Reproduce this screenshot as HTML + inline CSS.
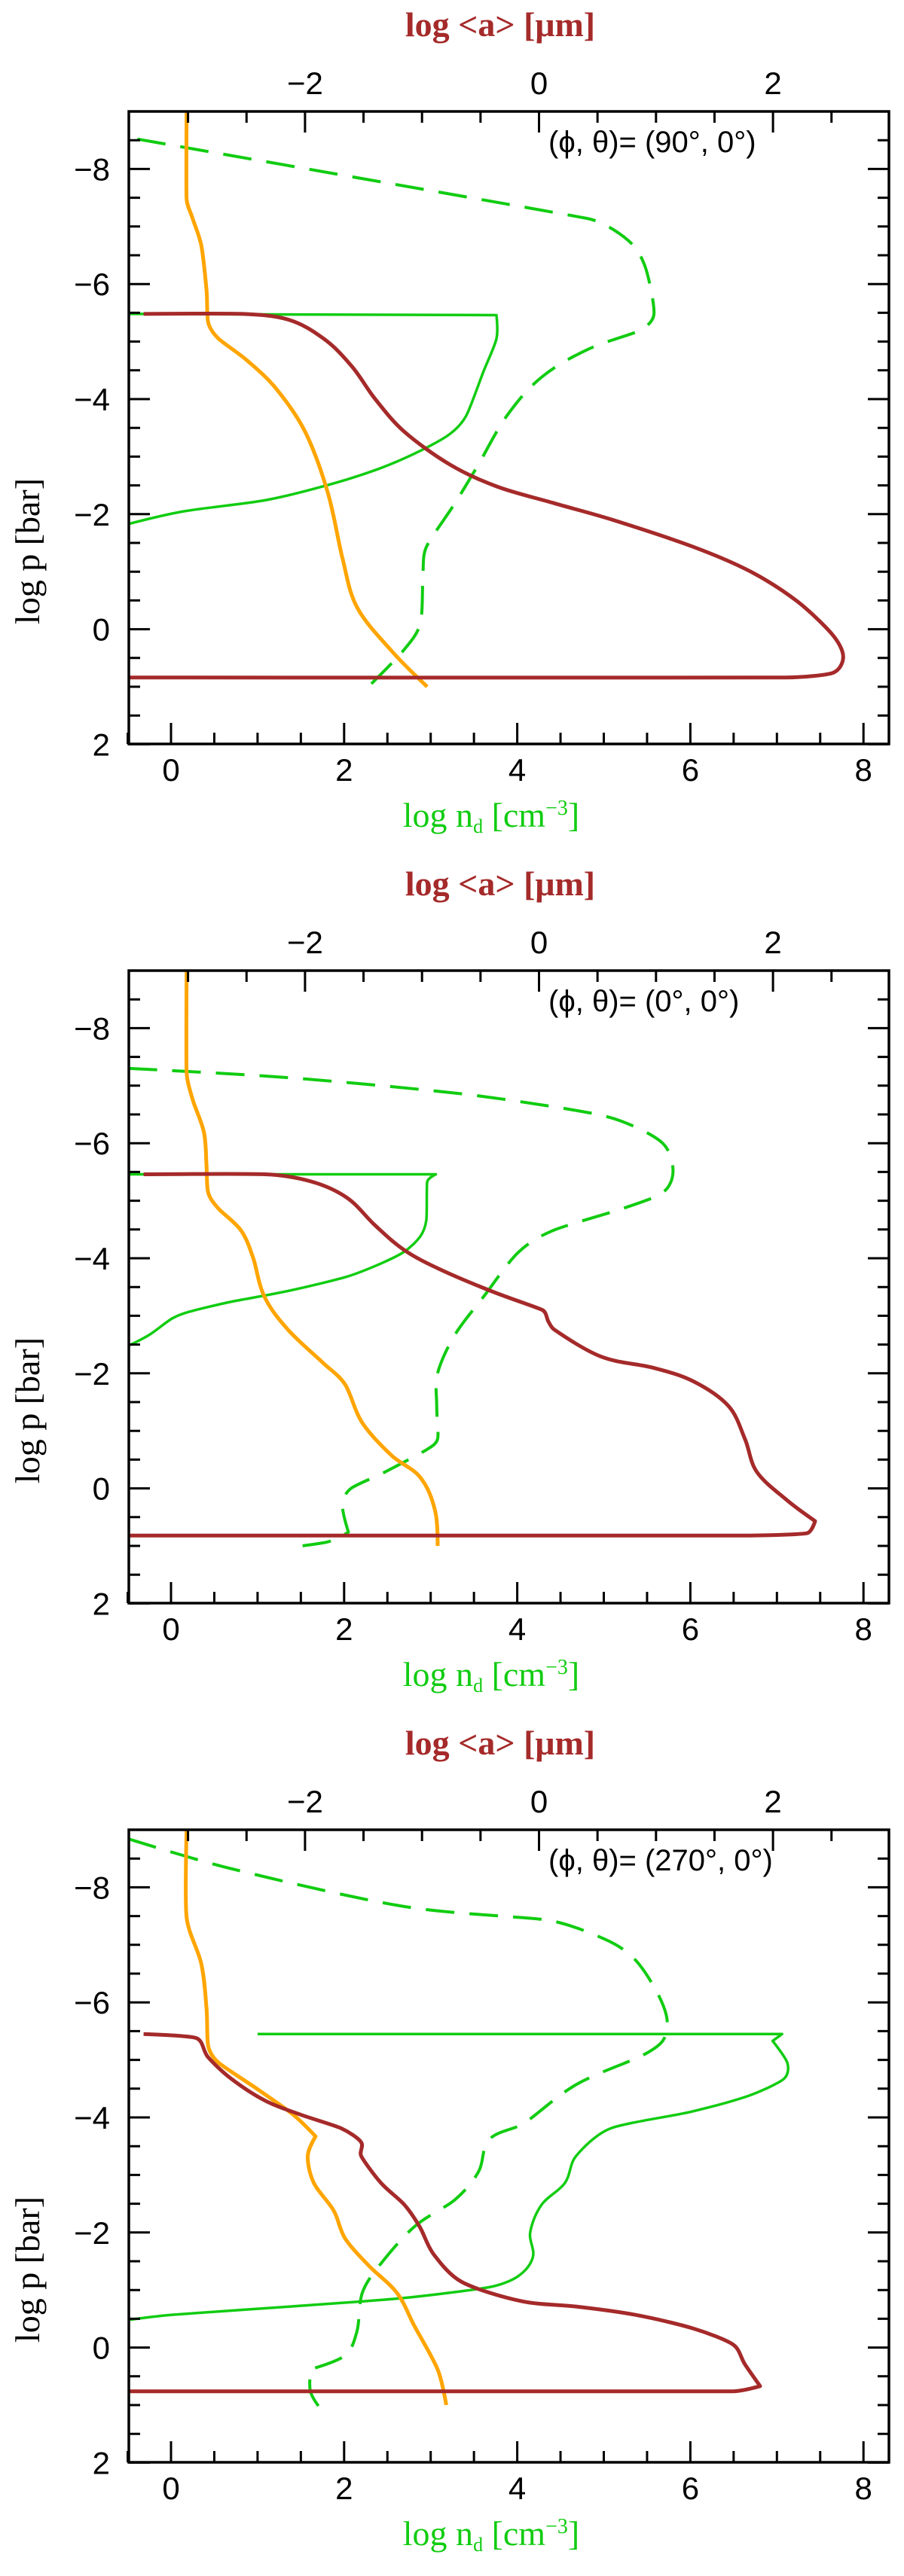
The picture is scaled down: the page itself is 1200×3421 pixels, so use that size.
<!DOCTYPE html>
<html><head><meta charset="utf-8">
<style>
html,body{margin:0;padding:0;background:#fff;}
svg{display:block;}
text{font-family:"Liberation Sans",sans-serif;}
.tk{font-size:42px;fill:#000;}
.ser{font-family:"Liberation Serif",serif;}
</style></head>
<body>
<svg id="fig" width="1200" height="3421" viewBox="0 0 1200 3421" xmlns="http://www.w3.org/2000/svg"></svg>
<script>
// ---- data (x in log n_d for green/orange, x in log <a> for brown; y = log p [bar]) ----
const panelLabels = ["(90°,  0°)", "(0°,  0°)", "(270°,  0°)"];
const xTicks = [0, 2, 4, 6, 8];
const yTicks = [-8, -6, -4, -2, 0, 2];
const aTicks = [-2, 0, 2];

const p1DashX = [-0.39,4.81,5.28,5.48,5.58,5.41,4.81,4.28,3.88,3.55,3.28,2.95,2.91,2.88,2.68,2.28];
const p1DashY = [-8.52,-7.14,-6.76,-6.29,-5.48,-5.19,-4.86,-4.38,-3.71,-2.86,-2.19,-1.43,-0.95,-0.10,0.38,1.0];
const p1GreenX = [-0.49,3.76,3.76,3.61,3.41,3.21,2.81,2.35,1.75,1.08,0.15,-0.49];
const p1GreenY = [-5.48,-5.46,-5.05,-4.48,-3.71,-3.38,-3.05,-2.76,-2.48,-2.24,-2.05,-1.83];
const p1BrownA = [-3.38,-2.53,-2.14,-1.84,-1.60,-1.40,-1.15,-0.76,-0.36,0.13,0.63,1.32,1.81,2.21,2.51,2.60,2.51,2.11,-3.50];
const p1BrownY = [-5.48,-5.48,-5.38,-5.05,-4.57,-4.0,-3.43,-2.86,-2.48,-2.19,-1.90,-1.43,-1.0,-0.48,0.10,0.48,0.76,0.84,0.84];
const p1OrangeX = [0.18,0.18,0.25,0.35,0.41,0.43,0.55,0.88,1.21,1.55,1.81,1.98,2.15,2.55,2.96];
const p1OrangeY = [-9.0,-7.48,-7.14,-6.67,-5.90,-5.33,-5.05,-4.67,-4.19,-3.43,-2.38,-1.24,-0.38,0.38,1.0];

const p2DashX = [-0.49,1.35,3.35,4.68,5.21,5.68,5.80,5.68,5.21,4.41,4.01,3.61,3.28,3.08,3.07,3.08,2.95,2.48,2.08,1.98,2.05,1.81,1.35];
const p2DashY = [-7.30,-7.14,-6.86,-6.57,-6.38,-6.0,-5.52,-5.14,-4.86,-4.48,-4.10,-3.33,-2.67,-2.0,-1.43,-0.86,-0.67,-0.29,0,0.29,0.76,0.93,1.03];
const p2GreenX = [-0.49,3.06,2.96,2.95,2.88,2.68,2.35,2.01,1.35,0.68,0.21,0.01,-0.25,-0.49];
const p2GreenY = [-5.46,-5.46,-5.33,-4.67,-4.38,-4.10,-3.86,-3.67,-3.43,-3.24,-3.07,-2.95,-2.67,-2.48];
const p2BrownA = [-3.38,-2.34,-1.94,-1.64,-1.40,-1.15,-0.85,-0.41,0.03,0.08,0.13,0.53,0.97,1.32,1.62,1.76,1.86,2.11,2.36,2.29,1.76,-3.50];
const p2BrownY = [-5.46,-5.46,-5.33,-5.05,-4.57,-4.14,-3.81,-3.43,-3.10,-2.90,-2.76,-2.29,-2.10,-1.86,-1.43,-0.86,-0.29,0.19,0.57,0.78,0.82,0.82];
const p2OrangeX = [0.18,0.18,0.25,0.38,0.41,0.43,0.55,0.81,0.95,1.08,1.35,1.75,2.01,2.21,2.55,2.88,3.05,3.08];
const p2OrangeY = [-9.0,-7.24,-6.76,-6.19,-5.62,-5.14,-4.86,-4.48,-4.0,-3.33,-2.76,-2.19,-1.81,-1.14,-0.57,-0.19,0.38,1.0];

const p3DashX = [-0.49,0.68,2.68,4.35,5.01,5.35,5.61,5.73,5.68,5.41,4.68,4.08,3.68,3.55,3.28,2.81,2.41,2.21,2.15,2.01,1.61,1.61,1.71];
const p3DashY = [-8.84,-8.33,-7.67,-7.43,-7.10,-6.76,-6.19,-5.71,-5.33,-5.05,-4.57,-3.90,-3.62,-3.05,-2.57,-2.10,-1.43,-0.95,-0.29,0.14,0.38,0.76,1.03];
const p3GreenX = [1.0,7.06,6.95,7.12,7.08,6.68,6.01,5.08,4.68,4.55,4.28,4.15,4.18,4.01,3.68,2.68,1.35,0.01,-0.49];
const p3GreenY = [-5.45,-5.45,-5.33,-4.95,-4.67,-4.38,-4.10,-3.81,-3.33,-2.86,-2.48,-2.0,-1.57,-1.24,-1.05,-0.86,-0.71,-0.57,-0.48];
const p3BrownA = [-3.38,-2.93,-2.83,-2.63,-2.34,-2.04,-1.69,-1.52,-1.52,-1.35,-1.15,-1.02,-0.90,-0.66,-0.16,0.33,0.82,1.32,1.66,1.76,1.89,1.66,-3.50];
const p3BrownY = [-5.45,-5.38,-5.05,-4.67,-4.29,-4.05,-3.81,-3.57,-3.33,-2.86,-2.48,-2.10,-1.62,-1.14,-0.81,-0.71,-0.57,-0.33,-0.05,0.29,0.67,0.76,0.76];
const p3OrangeX = [0.18,0.18,0.35,0.41,0.43,0.55,1.01,1.41,1.67,1.58,1.65,1.88,2.01,2.28,2.61,2.81,3.08,3.18];
const p3OrangeY = [-9.0,-7.48,-6.67,-5.90,-5.24,-4.95,-4.48,-4.05,-3.67,-3.33,-2.86,-2.38,-1.90,-1.43,-0.95,-0.38,0.38,1.0];

// ---- layout ----
const NS = "http://www.w3.org/2000/svg";
const svg = document.getElementById('fig');
const L = 171, R = 1180, T = 148, B = 988;
const X0 = 227, XU = 114.9;      // log n_d axis
const A0 = 715.5, AU = 155.3;    // log <a> axis
const YU = 76.4;
const offsets = [0, 1141, 2282];
const BROWN = "#a52a2a", ORANGE = "#ffa500", GREEN = "#11cc11";
function sx(v){ return X0 + v*XU; }
function sa(v){ return A0 + v*AU; }
function sy(v, off){ return off + T + (v + 9)*YU; }
function mk(tag, attrs, parent){
  const e = document.createElementNS(NS, tag);
  for (const k in attrs) e.setAttribute(k, attrs[k]);
  (parent||svg).appendChild(e); return e;
}
const panels = [
  {dx:p1DashX,dy:p1DashY,gx:p1GreenX,gy:p1GreenY,ba:p1BrownA,by:p1BrownY,ox:p1OrangeX,oy:p1OrangeY},
  {dx:p2DashX,dy:p2DashY,gx:p2GreenX,gy:p2GreenY,ba:p2BrownA,by:p2BrownY,ox:p2OrangeX,oy:p2OrangeY},
  {dx:p3DashX,dy:p3DashY,gx:p3GreenX,gy:p3GreenY,ba:p3BrownA,by:p3BrownY,ox:p3OrangeX,oy:p3OrangeY}
];
function tangents(pts){
  const n = pts.length, tg = [];
  for (let i=0;i<n;i++){
    if (i===0 || i===n-1){ tg.push([0,0]); continue; }
    const a = pts[i-1], b = pts[i], c = pts[i+1];
    const u1 = [b[0]-a[0], b[1]-a[1]], u2 = [c[0]-b[0], c[1]-b[1]];
    const l1 = Math.hypot(u1[0],u1[1]), l2 = Math.hypot(u2[0],u2[1]);
    if (l1<1e-6||l2<1e-6){ tg.push([0,0]); continue; }
    const cos = (u1[0]*u2[0]+u1[1]*u2[1])/(l1*l2);
    if (cos < 0.4){ tg.push([0,0]); continue; }
    let dx = c[0]-a[0], dy = c[1]-a[1]; const ld = Math.hypot(dx,dy);
    const m = Math.min(l1,l2)*0.35;
    tg.push([dx/ld*m, dy/ld*m]);
  }
  return tg;
}
function line(xs, ys, fx, off, color, w, dash, name, g){
  const pts = xs.map((x,i)=>[fx(x), sy(ys[i],off)]);
  const tg = tangents(pts);
  let d = "M"+pts[0][0].toFixed(1)+","+pts[0][1].toFixed(1);
  for (let i=0;i<pts.length-1;i++){
    const p1 = pts[i], p2 = pts[i+1];
    const c1x = p1[0]+tg[i][0], c1y = p1[1]+tg[i][1];
    const c2x = p2[0]-tg[i+1][0], c2y = p2[1]-tg[i+1][1];
    d += "C"+c1x.toFixed(1)+","+c1y.toFixed(1)+" "+c2x.toFixed(1)+","+c2y.toFixed(1)+" "+p2[0].toFixed(1)+","+p2[1].toFixed(1);
  }
  const p = mk('path', {d:d, fill:"none", stroke:color, 'stroke-width':w, 'stroke-linejoin':"round"}, g);
  if (dash) p.setAttribute('stroke-dasharray', dash);
  
  
}
panels.forEach((P, i) => {
  const off = offsets[i];
  const g = mk('g', {});
  
  
  const cp = mk('clipPath', {id:'clip'+i}, g);
  mk('rect', {x:L, y:off+T, width:R-L, height:B-T}, cp);
  const cg = mk('g', {'clip-path':'url(#clip'+i+')'}, g);
  
  
  line(P.dx, P.dy, sx, off, GREEN, 4, "38,20", 'green-dashed-curve', cg);
  line(P.gx, P.gy, sx, off, GREEN, 3.5, null, 'green-solid-curve', cg);
  line(P.ox, P.oy, sx, off, ORANGE, 5, null, 'orange-curve', cg);
  line(P.ba, P.by, sa, off, BROWN, 5, null, 'brown-grain-size-curve', cg);
  const fr = mk('rect', {x:L, y:off+T, width:R-L, height:B-T, fill:"none", stroke:"#000", 'stroke-width':3.5}, g);
  
  
  let td = "";
  for (let v=-0.5; v<=8.3; v+=0.5){
    const x = sx(v), len = (Math.abs(v%2)<1e-6) ? 28 : 15;
    td += "M"+x+","+(off+B)+"v"+(-len);
  }
  for (let v=-3; v<=2.6; v+=0.5){
    const x = sa(v); if (x<L||x>R) continue;
    const len = (Math.abs(v%2)<1e-6) ? 28 : 15;
    td += "M"+x+","+(off+T)+"v"+len;
  }
  for (let v=-8.5; v<=2; v+=0.5){
    const y = sy(v,off), len = (Math.abs(v%2)<1e-6) ? 28 : 15;
    td += "M"+L+","+y+"h"+len+"M"+R+","+y+"h"+(-len);
  }
  const tp = mk('path', {d:td, stroke:"#000", 'stroke-width':3, fill:"none"}, g);
  
  
  xTicks.forEach(v => {
    const t = mk('text', {x:sx(v), y:off+1037, 'text-anchor':"middle", class:"tk"}, g);
    t.textContent = String(v);
    
    
  });
  aTicks.forEach(v => {
    const t = mk('text', {x:sa(v), y:off+125, 'text-anchor':"middle", class:"tk"}, g);
    t.textContent = v<0 ? "\u2212"+Math.abs(v) : String(v);
    
    
  });
  yTicks.forEach(v => {
    const t = mk('text', {x:146, y:sy(v,off)+15, 'text-anchor':"end", class:"tk"}, g);
    t.textContent = v<0 ? "\u2212"+Math.abs(v) : String(v);
    
    
  });
  const tt = mk('text', {x:664, y:off+48, 'text-anchor':"middle", fill:BROWN, 'font-size':46, 'font-weight':"bold", class:"ser"}, g);
  tt.textContent = "log <a> [\u03bcm]";
  
  
  const bt = mk('text', {x:652, y:off+1098, 'text-anchor':"middle", fill:GREEN, 'font-size':46, class:"ser"}, g);
  bt.innerHTML = 'log n<tspan font-size="26" dy="8">d</tspan><tspan dy="-8"> [cm</tspan><tspan font-size="28" dy="-16">\u22123</tspan><tspan dy="16">]</tspan>';
  
  
  const yt = mk('text', {x:0, y:0, 'text-anchor':"middle", 'font-size':46, class:"ser", transform:"translate(52,"+(off+732)+") rotate(-90)"}, g);
  yt.textContent = "log p [bar]";
  
  
  const lt = mk('text', {x:728, y:off+202, 'font-size':40, fill:"#000"}, g);
  lt.textContent = "(\u03d5,  \u03b8)=  " + panelLabels[i];
  
  
});
</script>
</body></html>
